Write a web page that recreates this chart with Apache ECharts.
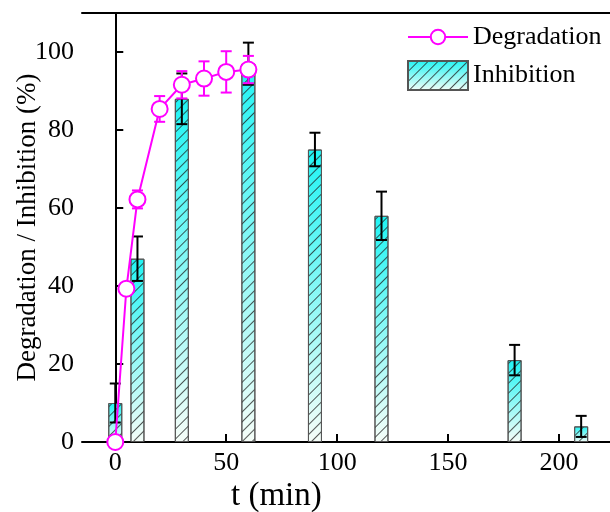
<!DOCTYPE html>
<html>
<head>
<meta charset="utf-8">
<script src="https://cdn.jsdelivr.net/npm/echarts@6/dist/echarts.min.js"></script>
<style>
  html, body { margin: 0; padding: 0; background: #fff; }
  #chart { width: 610px; height: 512px; }
</style>
</head>
<body>
<div id="chart"></div>
<script>
// inhibition (bars, black error bars)
const inhibTime = [0, 10, 30, 60, 90, 120, 180, 210];
const inhibValue = [10, 47, 88, 97, 75, 58, 21, 4];
const inhibErr = [5, 5.7, 6.5, 5.4, 4.3, 6.2, 3.9, 2.7];
// degradation (line with circles, magenta error bars)
const degTime = [0, 5, 10, 20, 30, 40, 50, 60];
const degValue = [0, 39.3, 62.2, 85.4, 91.6, 93.2, 94.9, 95.5];
const degErr = [0, 1, 2.3, 3.3, 3.5, 4.4, 5.3, 3.5];
const yTicks = [0, 20, 40, 60, 80, 100];

const FONT = '"Liberation Serif", "Times New Roman", serif';
const MAGENTA = '#ff00ff';

const pairs = (xs, ys) => xs.map((x, i) => [x, ys[i]]);
const errRows = (xs, ys, es) => xs.map((x, i) => [x, ys[i] - es[i], ys[i] + es[i]]);

/**
 * vertical error bar with caps
 */
function renderErr(params, api) {
    const x = api.value(0);
    const top = api.coord([x, api.value(2)]);
    const bot = api.coord([x, api.value(1)]);
    const half = 5.5;
    const style = { stroke: api.visual('color'), lineWidth: 2 };
    return {
        type: 'group',
        children: [
            { type: 'line', shape: { x1: top[0], y1: top[1], x2: bot[0], y2: bot[1] }, style },
            { type: 'line', shape: { x1: top[0] - half, y1: top[1], x2: top[0] + half, y2: top[1] }, style },
            { type: 'line', shape: { x1: bot[0] - half, y1: bot[1], x2: bot[0] + half, y2: bot[1] }, style }
        ]
    };
}

const barFill = new echarts.graphic.LinearGradient(0, 0, 0, 1, [
    { offset: 0, color: '#1ff4f4' },
    { offset: 1, color: '#f6fdf8' }
]);
const hatch = {
    symbol: 'rect',
    symbolSize: 1,
    color: 'rgba(30,30,30,0.75)',
    dashArrayX: [1, 0],
    dashArrayY: [1, 6],
    rotation: -Math.PI / 4
};

const chart = echarts.init(document.getElementById('chart'), null, { renderer: 'canvas' });

chart.setOption({
    animation: false,
    textStyle: { fontFamily: FONT, color: '#000' },
    grid: { left: 82, right: 0, top: 13, bottom: 70, containLabel: false, outerBoundsMode: 'none' },
    title: {
        text: 't (min)',
        left: 226,
        top: 475,
        textStyle: { fontFamily: FONT, fontSize: 33, fontWeight: 'normal', color: '#000' }
    },
    legend: [
        {
            data: [{ name: 'Degradation' }],
            left: 407,
            top: 24,
            padding: 0,
            itemWidth: 60,
            itemHeight: 18,
            textStyle: { fontFamily: FONT, fontSize: 26, color: '#000' }
        },
        {
            data: [{ name: 'Inhibition', icon: 'rect' }],
            left: 407,
            top: 60,
            padding: 0,
            itemWidth: 60,
            itemHeight: 29,
            textStyle: { fontFamily: FONT, fontSize: 26, color: '#000' }
        }
    ],
    xAxis: [
        {
            type: 'value',
            min: -15,
            max: 223,
            splitNumber: 5,
            axisLine: { onZero: false, lineStyle: { color: '#000', width: 2 } },
            axisTick: { inside: true, length: 8, lineStyle: { color: '#000', width: 2 } },
            axisLabel: { fontFamily: FONT, fontSize: 26, color: '#000', margin: 8, showMinLabel: false, showMaxLabel: false },
            splitLine: { show: false }
        },
        {
            type: 'value',
            position: 'top',
            min: -15,
            max: 223,
            axisLine: { show: true, onZero: false, lineStyle: { color: '#000', width: 2 } },
            axisTick: { show: false },
            axisLabel: { show: false },
            splitLine: { show: false }
        }
    ],
    yAxis: {
        type: 'value',
        min: 0,
        max: 110,
        interval: 20,
        name: 'Degradation / Inhibition (%)',
        nameLocation: 'middle',
        nameGap: 41,
        nameMoveOverlap: false,
        nameTextStyle: { fontFamily: FONT, fontSize: 27, color: '#000' },
        axisLine: { show: true, lineStyle: { color: '#000', width: 2 } },
        axisTick: { inside: true, length: 8, lineStyle: { color: '#000', width: 2 } },
        axisLabel: {
            fontFamily: FONT, fontSize: 26, color: '#000', margin: 8, showMaxLabel: false,
            formatter: v => (yTicks.indexOf(v) >= 0 ? String(v) : '')
        },
        splitLine: { show: false }
    },
    series: [
        {
            name: 'Inhibition',
            type: 'bar',
            barWidth: 14,
            data: pairs(inhibTime, inhibValue),
            itemStyle: { color: barFill, borderColor: '#555', borderWidth: 1, decal: hatch },
            z: 1
        },
        {
            name: 'InhibErr',
            type: 'custom',
            renderItem: renderErr,
            data: errRows(inhibTime, inhibValue, inhibErr),
            encode: { x: 0, y: [1, 2] },
            itemStyle: { color: '#000' },
            clip: false,
            z: 2
        },
        {
            name: 'DegErr',
            type: 'custom',
            renderItem: renderErr,
            data: errRows(degTime, degValue, degErr),
            encode: { x: 0, y: [1, 2] },
            itemStyle: { color: MAGENTA },
            clip: false,
            z: 3
        },
        {
            name: 'Degradation',
            type: 'line',
            data: pairs(degTime, degValue),
            symbol: 'circle',
            symbolSize: 16,
            showAllSymbol: true,
            clip: false,
            lineStyle: { color: MAGENTA, width: 2 },
            itemStyle: { color: '#fff', borderColor: MAGENTA, borderWidth: 2 },
            z: 4
        }
    ]
});
</script>
</body>
</html>
